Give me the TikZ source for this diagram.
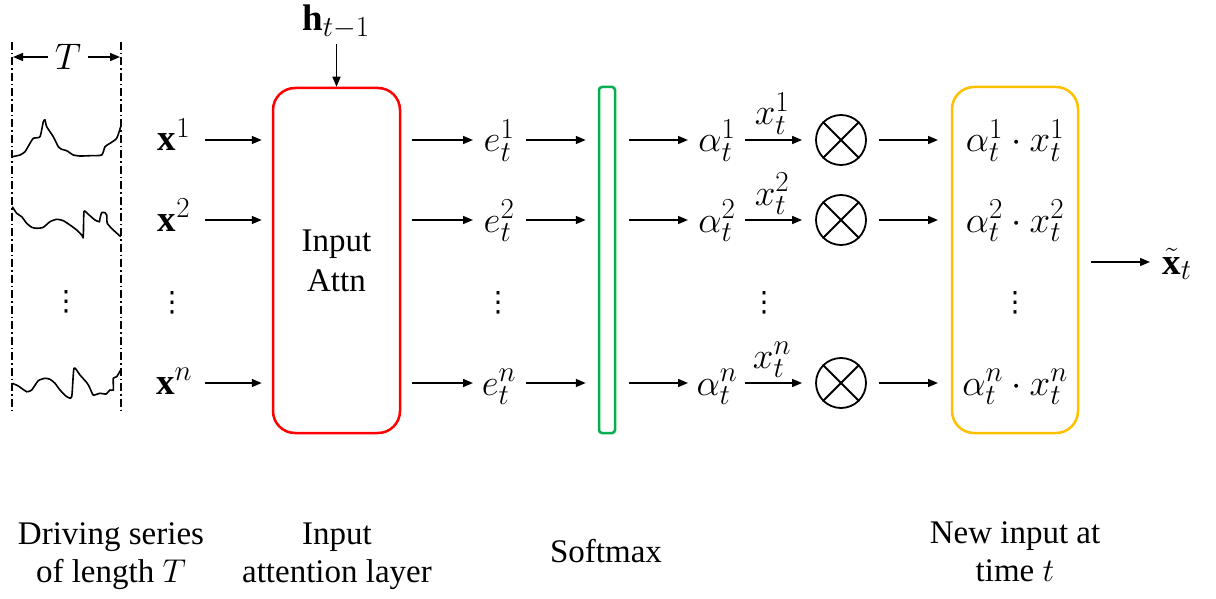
\RequirePackage{fix-cm}
\documentclass[tikz,border=0pt]{standalone}
\usepackage{fontspec}
\setmainfont{Liberation Serif}
\newfontfamily\djv{DejaVu Sans}
\usetikzlibrary{arrows.meta}
\DeclareMathSizes{37}{37}{29}{21}
\definecolor{boxred}{RGB}{255,0,0}
\definecolor{boxgreen}{RGB}{0,176,80}
\definecolor{boxyellow}{RGB}{255,192,0}
\begin{document}
\begin{tikzpicture}[x=1pt,y=-1pt,
  arr/.style={-{Triangle[length=10pt,width=8pt]}, line width=1.6pt},
  mlbl/.style={inner sep=0pt, anchor=base, font=\fontsize{37}{42}\selectfont},
  txt/.style={align=center, inner sep=0pt, font=\fontsize{33}{38}\selectfont},
  vdot/.style={inner sep=0pt, font=\djv\fontsize{28}{34}\selectfont},
  series/.style={line width=1.6pt, smooth, tension=0.35},
  ddot/.style={line width=1.5pt, dash pattern=on 8pt off 3pt on 1.5pt off 3pt},
  bigbox/.style={draw, line width=2.5pt, rounded corners=22pt, minimum width=126pt, minimum height=345pt, inner sep=0pt},
  mult/.style={circle, draw, line width=1.8pt, minimum size=50pt, inner sep=0pt}]
\useasboundingbox (0,0) rectangle (1216,599);

% driving series column
\draw[ddot] (12,42) -- (12,412);
\draw[ddot] (121,42) -- (121,412);
\node[inner sep=0pt, font=\fontsize{37}{42}\selectfont] (T) at (68,57) {$T$};
\coordinate (tl) at (13,57);
\coordinate (tr) at (120,57);
\draw[arr] ([xshift=-7pt]T.west) -- (tl);
\draw[arr] ([xshift=7pt]T.east) -- (tr);

\draw[series] plot coordinates {(12.3,156.7) (20,155) (25,151.7) (30,143.3) (33.3,138.3) (40,136.7) (43.3,121.7) (45,120) (46.7,126.7) (53.3,136.7) (58.3,146.7) (61.7,149.3) (66.7,150.7) (73.3,155) (80,156) (90,155.7) (101.7,155) (105,146.7) (110,143.3) (116.7,138.3) (120.7,126.7)};
\draw[series] plot coordinates {(12.3,206.7) (16.7,213.3) (21.7,216.7) (26.7,223.3) (31.7,227.3) (36.7,228.3) (43.3,227.3) (50,221.7) (56.7,219.3) (63.3,220.7) (70,225) (76.7,230) (81.7,235) (83.3,236.7) (84,211.7) (88.3,214.3) (95,220) (99.3,221.7) (100,218.3) (101.7,212.7) (105,212.7) (106.7,215) (107.3,223.3) (113.3,230) (120.7,236.7)};
\draw[series] plot coordinates {(12.3,383.3) (18.3,386) (26.7,391.7) (31.7,390) (38.3,380.7) (45,378.3) (50,379.3) (55,383.3) (60,390) (66.7,396.7) (71.7,396.7) (74,368.3) (80,375) (87.3,383.3) (90,388.3) (93.3,395) (100,393.3) (106,394) (110,390) (113.3,390) (113.3,378.3) (116.7,376.7) (120.7,370)};

% main blocks
\node[bigbox, draw=boxred, minimum width=127pt, align=center, font=\fontsize{33}{40}\selectfont] (attn) at (336.5,260.5) {Input\\Attn};
\node[draw=boxgreen, line width=2.5pt, rounded corners=3pt, minimum width=16pt, minimum height=346pt, inner sep=0pt] (soft) at (607,260) {};
\node[bigbox, draw=boxyellow, minimum height=346pt] (newin) at (1015,260) {};

% previous hidden state
\node[inner sep=0pt, font=\fontsize{37}{42}\selectfont] (h) at (336,22) {$\mathbf{h}_{t-1}$};
\draw[arr, shorten <=5pt] (h.south -| attn.north) -- (attn.north);

% rows
\foreach \i/\y in {1/140,2/220,n/383} {
  \node[mlbl] (x\i) at (174,\y+11) {$\mathbf{x}^{\i}$};
  \coordinate (xs\i) at (205,\y);
  \draw[arr, shorten >=10pt] (xs\i) -- (attn.west |- xs\i);

  \coordinate (et\i) at (473,\y);
  \draw[arr, shorten <=11pt] (attn.east |- et\i) -- (et\i);
  \node[mlbl] (e\i) at (499,\y+12) {$e_t^{\i}$};
  \coordinate (es\i) at (526,\y);
  \draw[arr, shorten >=12pt] (es\i) -- (soft.west |- es\i);

  \coordinate (at\i) at (688,\y);
  \draw[arr, shorten <=12.5pt] (soft.east |- at\i) -- (at\i);
  \node[mlbl] (a\i) at (717,\y+12) {$\alpha_t^{\i}$};

  \node[mult] (m\i) at (841,\y) {};
  \draw[line width=1.8pt] (m\i.north east) -- (m\i.south west);
  \draw[line width=1.8pt] (m\i.north west) -- (m\i.south east);
  \coordinate (ms\i) at (745,\y);
  \draw[arr, shorten >=13pt] (ms\i) -- (m\i.west);
  \node[mlbl] (xt\i) at (772,\y-15) {$x_t^{\i}$};

  \coordinate (pe\i) at (938,\y);
  \draw[arr, shorten <=12pt] (m\i.east) -- (pe\i);
  \node[mlbl] (p\i) at (1015,\y+12) {$\alpha_t^{\i}\cdot x_t^{\i}$};
}

% output
\coordinate (xo) at (1150,262);
\draw[arr, shorten <=12pt] (newin.east |- xo) -- (xo);
\node[mlbl] (xtil) at (1177,274) {$\tilde{\mathbf{x}}_t$};

% vertical dots
\node[vdot] (d0) at (66,302) {⋮};
\node[vdot] (d1) at (172,303) {⋮};
\node[vdot] (d2) at (498,303) {⋮};
\node[vdot] (d3) at (764,303) {⋮};
\node[vdot] (d4) at (1015,303) {⋮};

% captions
\node[txt] (c1) at (111,556) {Driving series\\of length $T$};
\node[txt] (c2) at (337,556) {Input\\attention layer};
\node[txt] (c3) at (606,551) {Softmax};
\node[txt] (c4) at (1015,552) {New input at\\time $t$};
\end{tikzpicture}
\end{document}
